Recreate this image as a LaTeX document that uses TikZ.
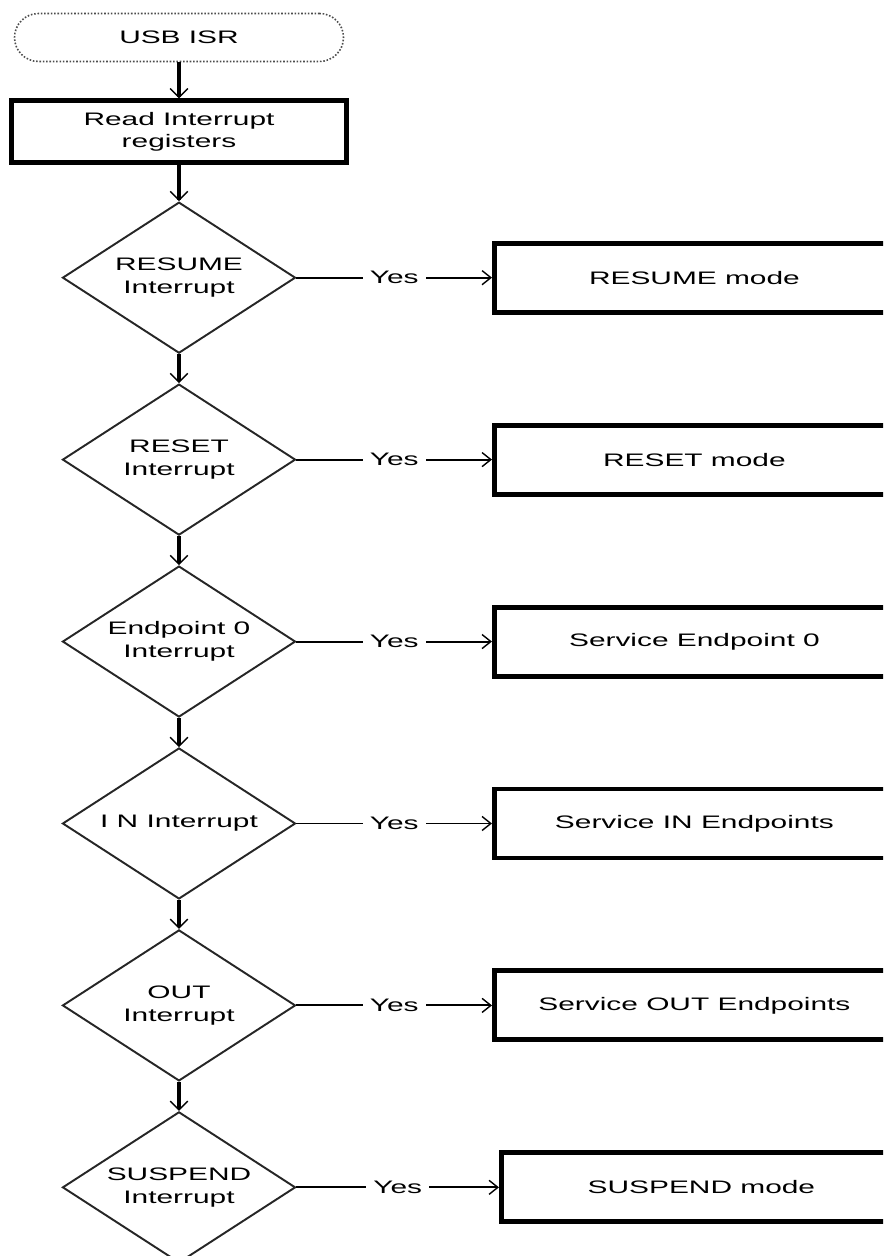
\documentclass[tikz,border=0pt]{standalone}
\usepackage{fontspec}
\newfontfamily\chartfont[FakeStretch=1.65]{Liberation Sans}
\usetikzlibrary{positioning,arrows.meta,shapes.geometric}

\begin{document}
\begin{tikzpicture}[
      every node/.style={font={\fontsize{10.3pt}{13pt}\chartfont}, align=center},
      term/.style={rectangle, draw=black!70, densely dotted, line width=0.9pt,
                   rounded corners=0.48cm, minimum width=6.58cm, minimum height=0.96cm},
      proc/.style={rectangle, draw=black, line width=2.8pt,
                   minimum width=6.7cm, minimum height=1.24cm, inner sep=2pt},
      ask/.style={diamond, draw=black!85, line width=1.1pt, aspect=1.54,
                  minimum width=4.66cm, minimum height=3.02cm, inner sep=0pt},
      act/.style={proc, minimum width=8cm, minimum height=1.38cm},
      flow/.style={-{Straight Barb[length=5pt, width=10pt, line width=0.8pt]}, line width=2.2pt},
      yesarr/.style={-{Straight Barb[length=5pt, width=8pt, line width=0.8pt]}, line width=1.1pt},
      lbl/.style={fill=white, inner sep=4pt},
    ]
    % The page is the frame: the mode boxes and the last diamond run off it.
    \useasboundingbox (0,0) rectangle (17.66,-25.12);
    \clip (0,0) rectangle (17.66,-25.12);
    \node[term] (start) at (3.58,-0.75) {USB ISR};
    \node[proc, below=0.72cm of start] (read) {Read Interrupt\\registers};
    \node[ask, below=0.72cm of read] (resume) {RESUME\\Interrupt};
    \node[ask, below=0.58cm of resume] (reset) {RESET\\Interrupt};
    \node[ask, below=0.58cm of reset] (ep0) {Endpoint 0\\Interrupt};
    \node[ask, below=0.58cm of ep0] (inq) {I N Interrupt};
    \node[ask, below=0.58cm of inq] (outq) {OUT\\Interrupt};
    \node[ask, below=0.58cm of outq] (suspend) {SUSPEND\\Interrupt};
    % One handler box to the right of every check.
    \node[act, right=3.91cm of resume] (resumemode) {RESUME mode};
    \node[act, right=3.91cm of reset] (resetmode) {RESET mode};
    \node[act, right=3.91cm of ep0] (ep0svc) {Service Endpoint 0};
    \node[act, right=3.91cm of inq] (insvc) {Service IN Endpoints};
    \node[act, right=3.91cm of outq] (outsvc) {Service OUT Endpoints};
    \node[act, right=3.91cm of suspend, xshift=0.14cm] (suspendmode) {SUSPEND mode};
    \draw[flow] (start) -- (read);
    \draw[flow] (read) -- (resume);
    \draw[flow] (resume) -- (reset);
    \draw[flow] (reset) -- (ep0);
    \draw[flow] (ep0) -- (inq);
    \draw[flow] (inq) -- (outq);
    \draw[flow] (outq) -- (suspend);
    \draw[yesarr] (resume) -- node[lbl] {Yes} (resumemode);
    \draw[yesarr] (reset) -- node[lbl] {Yes} (resetmode);
    \draw[yesarr] (ep0) -- node[lbl] {Yes} (ep0svc);
    \draw[yesarr] (inq) -- node[lbl] {Yes} (insvc);
    \draw[yesarr] (outq) -- node[lbl] {Yes} (outsvc);
    \draw[yesarr] (suspend) -- node[lbl] {Yes} (suspendmode);
  \end{tikzpicture}
\end{document}
